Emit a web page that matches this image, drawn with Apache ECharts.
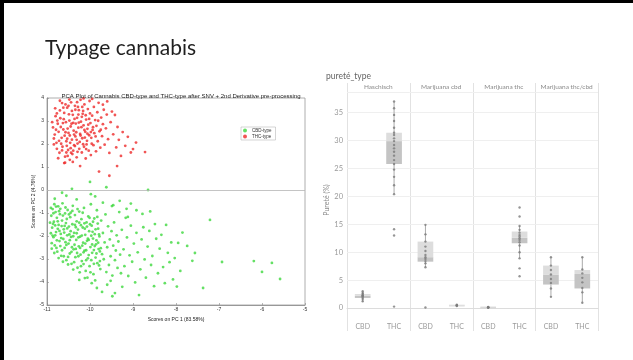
<!DOCTYPE html>
<html>
<head>
<meta charset="utf-8">
<title>Typage cannabis</title>
<script src="https://cdn.jsdelivr.net/npm/echarts@6/dist/echarts.min.js"></script>
<style>
  html, body { margin: 0; padding: 0; background: #fff; }
  #chart { width: 633px; height: 360px; }
</style>
</head>
<body>
<div id="chart"></div>
<script>
// ---- PCA scores (PC1, PC2) ----
const thcTypeScores = [
  [-10.82,2.41],[-10.78,2.05],[-10.75,2.88],[-10.71,1.62],[-10.69,3.12],[-10.66,2.27],[-10.64,1.88],[-10.62,2.63],[-10.60,3.35],[-10.58,1.45],
  [-10.56,2.95],[-10.55,2.12],[-10.53,3.58],[-10.51,1.74],[-10.50,2.48],[-10.48,3.02],[-10.47,1.31],[-10.45,2.76],[-10.44,3.81],[-10.42,2.19],
  [-10.41,1.56],[-10.40,3.27],[-10.38,2.58],[-10.37,1.95],[-10.35,3.66],[-10.34,2.33],[-10.33,2.89],[-10.31,1.42],[-10.30,3.14],[-10.29,2.02],
  [-10.27,2.71],[-10.26,3.47],[-10.25,1.79],[-10.23,2.44],[-10.22,3.92],[-10.21,2.97],[-10.19,1.63],[-10.18,2.25],[-10.17,3.31],[-10.15,2.81],
  [-10.14,1.88],[-10.13,3.72],[-10.11,2.53],[-10.10,1.37],[-10.09,3.06],[-10.07,2.14],[-10.06,2.66],[-10.05,3.52],[-10.03,1.71],[-10.02,2.38],
  [-10.01,3.87],[-9.99,2.91],[-9.98,1.52],[-9.97,2.27],[-9.95,3.23],[-9.94,2.61],[-9.92,1.95],[-9.91,3.61],[-9.90,2.47],[-9.88,3.04],
  [-9.86,1.68],[-9.85,2.79],[-9.83,3.38],[-9.82,2.12],[-9.80,3.79],[-9.78,2.55],[-9.76,1.84],[-9.74,3.15],[-9.72,2.34],[-9.70,2.86],
  [-9.68,3.49],[-9.66,1.97],[-9.63,2.68],[-9.61,3.28],[-9.58,2.21],[-9.55,1.61],[-9.52,2.95],[-9.49,3.41],[-9.46,2.42],[-9.42,3.26],
  [-9.39,1.85],[-9.36,2.74],[-9.33,2.18],[-9.28,1.48],[-9.24,2.52],[-9.18,1.92],[-9.12,2.31],[-9.05,1.63],[-9.00,1.78],[-8.93,2.06],
  [-8.72,1.65],[-9.37,1.04],[-9.79,0.80],[-10.23,1.04],[-10.60,1.17],[-9.55,0.62],
  [-10.86,2.72],[-10.80,3.21],[-10.77,1.79],[-10.73,2.53],[-10.70,3.46],[-10.67,2.01],[-10.63,2.91],[-10.59,2.36],[-10.57,3.72],[-10.54,1.92],
  [-10.52,2.67],[-10.49,3.29],[-10.46,2.05],[-10.43,2.88],[-10.39,1.71],[-10.36,3.09],[-10.32,2.51],[-10.28,3.61],[-10.24,2.09],[-10.20,2.73],
  [-10.16,3.44],[-10.12,2.28],[-10.08,1.98],[-10.04,2.84],[-10.00,3.33],[-9.96,2.01],[-9.93,2.73],[-9.87,2.33],[-9.81,3.01],[-9.75,2.62],
  [-10.65,3.78],[-10.48,3.93],[-10.30,3.82],[-10.15,3.98],[-9.95,3.96],[-9.70,3.71],[-9.60,3.85],[-10.74,1.38],[-10.58,1.19],[-10.40,1.22],
  [-10.88,2.95],[-10.84,1.98],[-10.81,3.55],[-10.79,2.62],[-10.76,3.02],[-10.72,2.14],[-10.68,2.74],[-10.65,1.72],[-10.61,3.08],[-10.57,2.51],
  [-10.55,1.63],[-10.53,2.23],[-10.50,3.66],[-10.47,2.37],[-10.45,1.82],[-10.42,3.44],[-10.39,2.92],[-10.37,2.41],[-10.34,3.49],[-10.31,2.18],
  [-10.29,1.66],[-10.26,2.93],[-10.22,2.37],[-10.19,3.18],[-10.16,1.99],[-10.13,2.61],[-10.10,3.25],[-10.06,2.45],[-10.02,3.09],[-9.98,2.52],
  [-10.70,3.88],[-10.62,3.58],[-10.52,1.48],[-10.44,1.62],[-10.35,1.91],[-10.27,3.28],[-10.18,3.61],[-10.09,1.78],[-10.84,2.24],[-10.77,3.33]
];

const cbdTypeScores = [
  [-10.90,-1.12],[-10.88,-1.64],[-10.87,-0.83],[-10.85,-2.05],[-10.84,-1.38],[-10.82,-2.41],[-10.80,-0.96],[-10.79,-1.83],[-10.77,-1.21],[-10.76,-2.68],
  [-10.74,-0.71],[-10.73,-1.52],[-10.71,-2.22],[-10.70,-1.05],[-10.68,-1.91],[-10.67,-2.86],[-10.65,-1.33],[-10.64,-0.58],[-10.62,-2.13],[-10.61,-1.71],
  [-10.59,-2.52],[-10.58,-1.02],[-10.56,-1.44],[-10.55,-3.05],[-10.53,-1.97],[-10.52,-0.87],[-10.50,-2.33],[-10.49,-1.59],[-10.47,-2.76],[-10.46,-1.18],
  [-10.44,-2.04],[-10.43,-3.21],[-10.41,-1.49],[-10.40,-0.69],[-10.38,-2.58],[-10.37,-1.86],[-10.35,-1.09],[-10.34,-2.92],[-10.32,-2.17],[-10.31,-1.36],
  [-10.29,-3.38],[-10.28,-1.72],[-10.26,-2.45],[-10.25,-0.94],[-10.23,-2.03],[-10.22,-2.81],[-10.20,-1.27],[-10.19,-3.09],[-10.17,-1.63],[-10.16,-2.29],
  [-10.14,-0.78],[-10.13,-2.64],[-10.11,-1.95],[-10.10,-3.52],[-10.08,-1.41],[-10.07,-2.21],[-10.05,-2.97],[-10.04,-1.15],[-10.02,-1.79],[-10.01,-3.31],
  [-9.99,-2.48],[-9.98,-0.62],[-9.96,-1.55],[-9.95,-2.73],[-9.93,-2.11],[-9.92,-3.66],[-9.90,-1.24],[-9.89,-1.92],[-9.87,-2.94],[-9.86,-2.36],
  [-9.84,-0.88],[-9.83,-3.18],[-9.81,-1.68],[-9.80,-2.57],[-9.78,-2.02],[-9.76,-3.44],[-9.74,-1.33],[-9.72,-2.79],[-9.70,-1.87],[-9.68,-3.01],
  [-9.66,-2.28],[-9.64,-1.06],[-9.62,-3.57],[-9.60,-2.49],[-9.58,-1.58],[-9.56,-3.26],[-9.54,-2.15],[-9.52,-2.88],[-9.50,-1.79],[-9.48,-3.72],
  [-9.46,-2.42],[-9.44,-1.41],[-9.42,-3.05],[-9.40,-2.63],[-9.38,-1.97],[-9.36,-3.39],[-9.34,-2.24],[-9.32,-0.96],[-9.30,-2.81],[-9.28,-3.62],
  [-10.91,-1.88],[-10.89,-2.31],[-10.86,-1.47],[-10.83,-0.62],[-10.81,-1.97],[-10.78,-2.52],[-10.75,-1.69],[-10.72,-0.92],[-10.69,-2.44],[-10.66,-1.57],
  [-10.63,-3.12],[-10.60,-1.85],[-10.57,-2.27],[-10.54,-1.26],[-10.51,-2.91],[-10.48,-1.93],[-10.45,-0.99],[-10.42,-2.49],[-10.39,-3.46],[-10.36,-2.38],
  [-10.33,-1.62],[-10.30,-2.74],[-10.27,-2.06],[-10.24,-3.58],[-10.21,-1.53],[-10.18,-2.42],[-10.15,-3.22],[-10.12,-1.68],[-10.09,-2.62],[-10.06,-3.81],
  [-10.03,-2.17],[-10.00,-1.49],[-9.97,-3.05],[-9.94,-1.82],[-9.91,-2.61],[-9.88,-3.93],[-9.85,-2.19],[-9.82,-1.46],[-9.79,-3.28],[-9.77,-2.67],
  [-10.93,-1.42],[-10.91,-0.78],[-10.89,-2.55],[-10.87,-1.98],[-10.85,-1.01],[-10.83,-2.74],[-10.81,-1.54],[-10.79,-0.72],[-10.77,-2.19],[-10.75,-1.36],
  [-10.73,-2.96],[-10.71,-1.78],[-10.69,-0.82],[-10.67,-2.09],[-10.65,-2.62],[-10.63,-1.11],[-10.61,-2.88],[-10.59,-1.56],[-10.57,-0.76],[-10.55,-2.39],
  [-10.53,-1.67],[-10.51,-3.24],[-10.49,-1.06],[-10.47,-2.18],[-10.45,-1.79],[-10.43,-2.69],[-10.41,-0.91],[-10.39,-2.01],[-10.37,-3.14],[-10.35,-1.52],
  [-10.33,-2.56],[-10.31,-1.88],[-10.29,-0.83],[-10.27,-2.88],[-10.25,-1.42],[-10.23,-2.52],[-10.21,-3.31],[-10.19,-1.98],[-10.17,-0.99],[-10.15,-2.71],
  [-10.13,-1.45],[-10.11,-2.33],[-10.09,-3.05],[-10.07,-1.59],[-10.05,-2.12],[-10.03,-2.83],[-10.01,-1.21],[-9.99,-3.58],[-9.97,-1.99],[-9.95,-2.37],
  [-9.93,-1.38],[-9.91,-3.21],[-9.89,-2.44],[-9.87,-1.71],[-9.85,-2.76],[-9.83,-1.17],[-9.81,-2.29],[-9.79,-1.93],[-9.77,-3.09],[-9.75,-2.53],
  [-10.82,-0.38],[-10.55,-0.25],[-10.31,-0.41],[-10.00,0.35],[-9.88,-0.28],[-9.70,-0.55],[-9.62,0.12],[-9.46,-0.66],[-9.31,-0.47],[-9.15,-0.82],
  [-9.05,-0.59],[-8.92,-0.88],[-8.78,-1.04],[-8.65,0.00],[-8.60,-0.93],[-10.65,-0.12],[-10.42,0.05],[-9.98,-0.18],[-9.49,-0.70],[-9.12,-1.17],
  [-10.12,-3.83],[-9.84,-4.26],[-9.72,-4.43],[-9.96,-4.05],[-9.60,-4.12],[-9.42,-4.48],[-9.52,-3.95],[-9.25,-4.21],[-9.48,-4.62],[-10.25,-3.91],
  [-9.26,-1.73],[-9.22,-2.58],[-9.20,-3.31],[-9.17,-1.21],[-9.14,-2.06],[-9.11,-3.74],[-9.08,-2.84],[-9.05,-1.55],[-9.02,-3.12],[-8.98,-2.33],
  [-8.95,-4.02],[-8.92,-1.86],[-8.89,-2.71],[-8.86,-4.57],[-8.83,-3.45],[-8.80,-2.15],[-8.76,-1.62],[-8.73,-3.02],[-8.70,-3.81],[-8.66,-2.46],
  [-8.62,-1.78],[-8.58,-3.26],[-8.55,-2.87],[-8.51,-4.18],[-8.49,-1.48],[-8.46,-2.12],[-8.42,-3.62],[-8.38,-2.55],[-8.34,-1.95],[-8.30,-3.35],
  [-8.26,-4.05],[-8.23,-1.52],[-8.19,-2.73],[-8.15,-3.14],[-8.11,-2.28],[-8.07,-3.89],[-8.03,-2.96],[-7.98,-4.20],[-7.95,-2.30],[-7.90,-3.52],
  [-7.74,-2.43],[-7.85,-1.85],[-7.62,-3.08],
  [-7.56,-2.74],[-7.37,-4.26],[-7.21,-1.30],[-6.93,-3.13],[-6.19,-3.09],[-6.00,-3.56],[-5.77,-3.17],[-5.58,-3.87]
];

const pcaXRange = [-11, -5];   // PC1
const pcaYRange = [-5, 4];     // PC2

// ---- Purity by type: [min, Q1, median, Q3, max] per CBD / THC ----
const purityCategories = ['CBD', 'THC'];
const facetNames = ['Haschisch', 'Marijuana cbd', 'Marijuana thc', 'Marijuana thc/cbd'];

const haschischStats     = [[1.1, 1.8, 2.2, 2.5, 3.0],   [20.4, 25.8, 29.9, 31.4, 37.0]];
const marijuanaCbdStats  = [[7.3, 8.3, 9.1, 11.9, 14.9], [0.3, 0.35, 0.45, 0.55, 0.7]];
const marijuanaThcStats  = [[0.02, 0.08, 0.12, 0.18, 0.25], [8.9, 11.6, 12.6, 13.7, 14.7]];
const marijuanaMixStats  = [[2.0, 4.2, 6.0, 7.6, 9.1],   [0.95, 3.5, 6.1, 6.8, 9.1]];

// individual samples
const haschischCbd    = [1.2, 1.6, 1.9, 2.1, 2.2, 2.3, 2.5, 2.7, 3.0];
const haschischThc    = [0.25, 13.0, 14.1, 20.4, 22.0, 23.5, 24.8, 25.8, 26.5, 27.3, 28.0, 28.6, 29.2, 29.9, 30.4, 31.0, 31.4, 32.3, 33.5, 34.6, 35.8, 37.0];
const marijuanaCbdCbd = [0.1, 7.3, 8.0, 8.4, 8.8, 9.1, 9.5, 10.2, 11.0, 11.9, 13.2, 14.9];
const marijuanaCbdThc = [0.35, 0.45, 0.5, 0.6];
const marijuanaThcCbd = [0.05, 0.1, 0.12, 0.15, 0.2];
const marijuanaThcThc = [5.7, 7.1, 8.9, 10.0, 11.2, 11.8, 12.2, 12.5, 12.8, 13.1, 13.5, 14.0, 14.7, 16.4, 18.0];
const marijuanaMixCbd = [2.0, 3.5, 4.5, 5.2, 6.0, 6.8, 7.6, 9.1];
const marijuanaMixThc = [0.95, 2.8, 3.6, 4.6, 5.4, 6.2, 6.9, 9.1];

const purityTickStep = 5;
const purityMax = 38.7;

// ---- layout ----
const pcaGrid = { left: 47, top: 98, width: 258, height: 207, show: true, borderColor: '#999', borderWidth: 0.8 };
const facetLeft = 347, facetWidth = 62.75, facetTop = 92, facetBottomY = 308, facetBandBottom = 319;

const facetStats  = [haschischStats, marijuanaCbdStats, marijuanaThcStats, marijuanaMixStats];
const facetPoints = [
  [haschischCbd, haschischThc],
  [marijuanaCbdCbd, marijuanaCbdThc],
  [marijuanaThcCbd, marijuanaThcThc],
  [marijuanaMixCbd, marijuanaMixThc]
];

const chart = echarts.init(document.getElementById('chart'), null, { renderer: 'canvas' });

const grids = [pcaGrid];
const xAxes = [{
  gridIndex: 0, type: 'value', min: pcaXRange[0], max: pcaXRange[1], interval: 1,
  axisLine: { onZero: false, lineStyle: { color: '#888', width: 0.8 } },
  axisTick: { inside: true, length: 2, lineStyle: { color: '#888', width: 0.6 } },
  axisLabel: { fontSize: 5, color: '#333', margin: 2, fontFamily: 'Liberation Sans' },
  splitLine: { show: false },
  name: 'Scores on PC 1 (83.58%)', nameLocation: 'middle', nameGap: 8,
  nameTextStyle: { fontSize: 5, color: '#222', fontFamily: 'Liberation Sans' }
}];
const yAxes = [{
  gridIndex: 0, type: 'value', min: pcaYRange[0], max: pcaYRange[1], interval: 1,
  axisLine: { onZero: false, lineStyle: { color: '#888', width: 0.8 } },
  axisTick: { inside: true, length: 2, lineStyle: { color: '#888', width: 0.6 } },
  axisLabel: { fontSize: 5, color: '#333', margin: 3, fontFamily: 'Liberation Sans' },
  splitLine: { show: false },
  name: 'Scores on PC 2 (4.76%)', nameLocation: 'middle', nameGap: 9,
  nameTextStyle: { fontSize: 5, color: '#222', fontFamily: 'Liberation Sans' }
}];

const series = [
  {
    name: 'CBD-type', type: 'scatter', xAxisIndex: 0, yAxisIndex: 0,
    data: cbdTypeScores, symbol: 'circle', symbolSize: 2.8,
    itemStyle: { color: '#3fd83f' }, silent: true,
    markLine: {
      silent: true, symbol: 'none', label: { show: false },
      lineStyle: { color: '#b5b5b5', width: 0.8, type: 'solid' },
      data: [{ yAxis: 0 }]
    }
  },
  {
    name: 'THC-type', type: 'scatter', xAxisIndex: 0, yAxisIndex: 0,
    data: thcTypeScores, symbol: 'circle', symbolSize: 2.8,
    itemStyle: { color: '#ee2a2a' }, silent: true
  }
];

function renderBox(params, api) {
  const cat = api.value(0);
  const lo = api.coord([cat, api.value(1)]);
  const q1 = api.coord([cat, api.value(2)]);
  const md = api.coord([cat, api.value(3)]);
  const q3 = api.coord([cat, api.value(4)]);
  const hi = api.coord([cat, api.value(5)]);
  const w = api.size([1, 0])[0] * 0.5;
  const x = lo[0];
  const lowH = Math.max(q1[1] - md[1], 0.8);
  const upH = Math.max(md[1] - q3[1], 0.8);
  return {
    type: 'group',
    children: [
      { type: 'line', shape: { x1: x, y1: hi[1], x2: x, y2: lo[1] }, style: { stroke: '#aaaaaa', lineWidth: 1 } },
      { type: 'rect', shape: { x: x - w / 2, y: md[1], width: w, height: lowH }, style: { fill: '#c4c4c4' } },
      { type: 'rect', shape: { x: x - w / 2, y: md[1] - upH, width: w, height: upH }, style: { fill: '#dddddd' } }
    ]
  };
}

facetNames.forEach(function (name, i) {
  const gi = i + 1;
  grids.push({ left: facetLeft + facetWidth * i, top: facetTop, width: facetWidth, height: facetBottomY - facetTop });

  // bottom category axis (CBD / THC)
  xAxes.push({
    gridIndex: gi, type: 'category', data: purityCategories, boundaryGap: true,
    position: 'bottom', offset: facetBandBottom - facetBottomY,
    axisLine: { show: true, lineStyle: { color: '#dcdcdc', width: 1 } },
    axisTick: { show: false },
    axisLabel: { fontSize: 7, color: '#9a9a9a', margin: 4, fontFamily: 'Lato' },
    splitLine: { show: false }
  });

  yAxes.push({
    gridIndex: gi, type: 'value', min: 0, max: purityMax, interval: purityTickStep,
    axisLine: { show: false }, axisTick: { show: false },
    axisLabel: {
      show: i === 0, fontSize: 7.5, color: '#9a9a9a', margin: 4, fontFamily: 'Lato',
      showMaxLabel: false
    },
    splitLine: { show: true, lineStyle: { color: '#efefef', width: 1 } },
    name: i === 0 ? 'Pureté (%)' : '', nameLocation: 'middle', nameGap: 17,
    nameTextStyle: { fontSize: 7, color: '#888', fontFamily: 'Lato' }
  });

  series.push({
    type: 'custom', xAxisIndex: gi, yAxisIndex: gi, silent: true,
    renderItem: renderBox,
    encode: { x: 0, y: [1, 2, 3, 4, 5] },
    data: facetStats[i].map(function (s, c) { return [c].concat(s); }),
    z: 2
  });

  const pts = [];
  facetPoints[i].forEach(function (vals, c) {
    vals.forEach(function (v) { pts.push([c, v]); });
  });
  series.push({
    type: 'scatter', xAxisIndex: gi, yAxisIndex: gi, silent: true,
    data: pts, symbol: 'circle', symbolSize: 2.4,
    itemStyle: { color: '#7a7a7a' }, z: 3
  });
});

// facet headers on a top category axis per facet
facetNames.forEach(function (name, i) {
  xAxes.push({
    gridIndex: i + 1, type: 'category', data: [name], position: 'top',
    axisLine: { show: false }, axisTick: { show: false },
    axisLabel: { fontSize: 6.5, color: '#8a8a8a', margin: 2, fontFamily: 'Lato' }
  });
});

// facet separators
const separators = [];
for (let i = 0; i <= facetNames.length; i++) {
  const x = Math.round(facetLeft + facetWidth * i) + 0.5;
  separators.push({
    type: 'line', silent: true,
    shape: { x1: x, y1: 83, x2: x, y2: 331 },
    style: { stroke: '#e2e2e2', lineWidth: 1 }
  });
}

const option = {
  backgroundColor: '#ffffff',
  animation: false,
  title: [
    { text: 'Typage cannabis', left: 40, top: 33,
      textStyle: { fontSize: 21, fontWeight: 'normal', color: '#1f1f1f', fontFamily: 'Lato' } },
    { text: 'PCA Plot of Cannabis CBD-type and THC-type after SNV + 2nd Derivative pre-processing',
      left: pcaGrid.left + pcaGrid.width / 2, top: 88, textAlign: 'center',
      textStyle: { fontSize: 6, fontWeight: 'normal', color: '#222', fontFamily: 'Liberation Sans' } },
    { text: 'pureté_type', left: 321, top: 67,
      textStyle: { fontSize: 8.5, fontWeight: 'normal', color: '#666', fontFamily: 'Lato' } }
  ],
  legend: {
    data: ['CBD-type', 'THC-type'],
    left: 241, top: 127, orient: 'vertical',
    itemWidth: 4, itemHeight: 4, itemGap: 1, icon: 'circle',
    padding: [1, 4, 1, 2],
    borderColor: '#aaa', borderWidth: 0.5, backgroundColor: '#fff',
    textStyle: { fontSize: 4.5, color: '#333', fontFamily: 'Liberation Sans' }
  },
  grid: grids,
  xAxis: xAxes,
  yAxis: yAxes,
  series: series,
  graphic: [
    { type: 'rect', silent: true, shape: { x: 0, y: 0, width: 633, height: 3 }, style: { fill: '#000' } },
    { type: 'rect', silent: true, shape: { x: 0, y: 0, width: 4, height: 360 }, style: { fill: '#000' } }
  ].concat(separators)
};

chart.setOption(option);
</script>
</body>
</html>
